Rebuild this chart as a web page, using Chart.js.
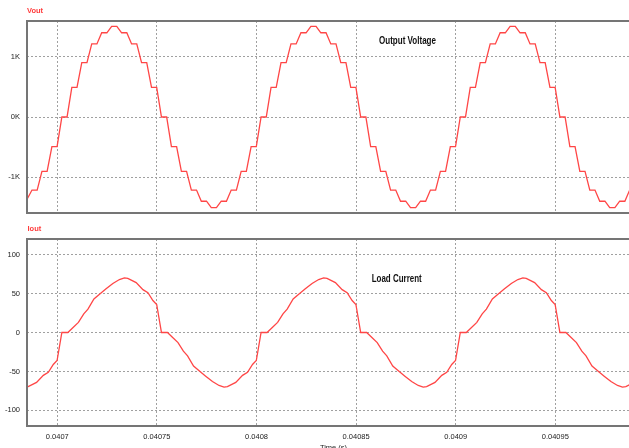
<!DOCTYPE html>
<html lang="en">
<head>
    <meta charset="UTF-8">
    <title>Vout / Iout</title>
    <script src="https://cdn.jsdelivr.net/npm/chart.js"></script>
    <style>
        html, body {
            margin: 0;
            padding: 0;
            background: #ffffff;
            overflow: hidden;
            width: 629px;
            height: 448px;
        }
        .panel {
            position: absolute;
            left: 0;
            width: 640px;
        }
        #top { top: 0; height: 218px; }
        #bottom { top: 218px; height: 247px; }
    </style>
</head>
<body>
    <div class="panel" id="top"><canvas id="vChart"></canvas></div>
    <div class="panel" id="bottom"><canvas id="iChart"></canvas></div>

    <script>
        // time in microseconds (0.0407 s = 40700 us)
        const timeTicks = [40700, 40750, 40800, 40850, 40900, 40950];
        const timeTickLabels = ['0.0407', '0.04075', '0.0408', '0.04085', '0.0409', '0.04095'];

        const vTicks = [-1000, 0, 1000];
        const vTickLabels = ['-1K', '0K', '1K'];
        const iTicks = [-100, -50, 0, 50, 100];
        const iTickLabels = ['-100', '-50', '0', '50', '100'];

        // Output voltage, staircase corners
        const vTime = [
            40682.3, 40684.3, 40687.3, 40689.9, 40692.3, 40694.9, 40697.3, 40699.9,
            40702.3, 40704.9, 40707.3, 40709.9, 40712.3, 40714.9, 40717.3, 40719.9, 40722.3, 40724.9,
            40727.3, 40729.9, 40732.3, 40734.9, 40737.3, 40739.9, 40742.3, 40744.9, 40747.3, 40749.9,
            40752.3, 40754.9, 40757.3, 40759.9, 40762.3, 40764.9, 40767.3, 40769.9, 40772.3, 40774.9,
            40777.3, 40779.9, 40782.3, 40784.9, 40787.3, 40789.9, 40792.3, 40794.9, 40797.3, 40799.9,
            40802.3, 40804.9, 40807.3, 40809.9, 40812.3, 40814.9, 40817.3, 40819.9, 40822.3, 40824.9,
            40827.3, 40829.9, 40832.3, 40834.9, 40837.3, 40839.9, 40842.3, 40844.9, 40847.3, 40849.9,
            40852.3, 40854.9, 40857.3, 40859.9, 40862.3, 40864.9, 40867.3, 40869.9, 40872.3, 40874.9,
            40877.3, 40879.9, 40882.3, 40884.9, 40887.3, 40889.9, 40892.3, 40894.9, 40897.3, 40899.9,
            40902.3, 40904.9, 40907.3, 40909.9, 40912.3, 40914.9, 40917.3, 40919.9, 40922.3, 40924.9,
            40927.3, 40929.9, 40932.3, 40934.9, 40937.3, 40939.9, 40942.3, 40944.9, 40947.3, 40949.9,
            40952.3, 40954.9, 40957.3, 40959.9, 40962.3, 40964.9, 40967.3, 40969.9, 40972.3, 40974.9,
            40977.3, 40979.9, 40982.3, 40984.9, 40987.3, 40989.9, 40992.3, 40994.9
        ];
        const vOut = [
            -1395, -1395, -1210, -1210, -900, -900, -490, -490,
            0, 0, 490, 490, 900, 900, 1210, 1210, 1395, 1395,
            1500, 1500, 1395, 1395, 1210, 1210, 900, 900, 490, 490,
            0, 0, -490, -490, -900, -900, -1210, -1210, -1395, -1395,
            -1500, -1500, -1395, -1395, -1210, -1210, -900, -900, -490, -490,
            0, 0, 490, 490, 900, 900, 1210, 1210, 1395, 1395,
            1500, 1500, 1395, 1395, 1210, 1210, 900, 900, 490, 490,
            0, 0, -490, -490, -900, -900, -1210, -1210, -1395, -1395,
            -1500, -1500, -1395, -1395, -1210, -1210, -900, -900, -490, -490,
            0, 0, 490, 490, 900, 900, 1210, 1210, 1395, 1395,
            1500, 1500, 1395, 1395, 1210, 1210, 900, 900, 490, 490,
            0, 0, -490, -490, -900, -900, -1210, -1210, -1395, -1395,
            -1500, -1500, -1395, -1395, -1210, -1210, -900, -900
        ];

        // Load current
        const iTime = [
            40681.2, 40683.7, 40685.4, 40689.6, 40693.0, 40695.5, 40698.0, 40699.9,
            40702.3, 40705.3, 40707.8, 40710.6, 40713.3, 40715.4, 40718.4, 40721.2, 40724.5,
            40727.9, 40731.2, 40733.7, 40735.4, 40739.6, 40743.0, 40745.5, 40748.0, 40749.9,
            40752.3, 40755.3, 40757.8, 40760.6, 40763.3, 40765.4, 40768.4, 40771.2, 40774.5,
            40777.9, 40781.2, 40783.7, 40785.4, 40789.6, 40793.0, 40795.5, 40798.0, 40799.9,
            40802.3, 40805.3, 40807.8, 40810.6, 40813.3, 40815.4, 40818.4, 40821.2, 40824.5,
            40827.9, 40831.2, 40833.7, 40835.4, 40839.6, 40843.0, 40845.5, 40848.0, 40849.9,
            40852.3, 40855.3, 40857.8, 40860.6, 40863.3, 40865.4, 40868.4, 40871.2, 40874.5,
            40877.9, 40881.2, 40883.7, 40885.4, 40889.6, 40893.0, 40895.5, 40898.0, 40899.9,
            40902.3, 40905.3, 40907.8, 40910.6, 40913.3, 40915.4, 40918.4, 40921.2, 40924.5,
            40927.9, 40931.2, 40933.7, 40935.4, 40939.6, 40943.0, 40945.5, 40948.0, 40949.9,
            40952.3, 40955.3, 40957.8, 40960.6, 40963.3, 40965.4, 40968.4, 40971.2, 40974.5,
            40977.9, 40981.2, 40983.7, 40985.4, 40989.6, 40993.0
        ];
        const iOut = [
            -68, -70, -69.5, -64, -55, -51, -41, -36,
            0, 0, 6, 13, 24, 30, 43, 49, 56,
            63, 68, 70, 69.5, 64, 55, 51, 41, 36,
            0, 0, -6, -13, -24, -30, -43, -49, -56,
            -63, -68, -70, -69.5, -64, -55, -51, -41, -36,
            0, 0, 6, 13, 24, 30, 43, 49, 56,
            63, 68, 70, 69.5, 64, 55, 51, 41, 36,
            0, 0, -6, -13, -24, -30, -43, -49, -56,
            -63, -68, -70, -69.5, -64, -55, -51, -41, -36,
            0, 0, 6, 13, 24, 30, 43, 49, 56,
            63, 68, 70, 69.5, 64, 55, 51, 41, 36,
            0, 0, -6, -13, -24, -30, -43, -49, -56,
            -63, -68, -70, -69.5, -64, -55
        ];

        const tMin = 40684.8;
        const tMax = 40992.5;
        const lineColor = '#ff4646';
        const gridColor = '#a0a0a0';
        const tickFont = { family: '"Liberation Sans", Arial, sans-serif', size: 7.5 };

        // frame, series name and caption
        const overlay = {
            id: 'overlay',
            afterDraw(chart, args, o) {
                const { ctx, chartArea: a } = chart;
                ctx.save();
                ctx.strokeStyle = '#757575';
                ctx.lineWidth = 2;
                ctx.strokeRect(a.left, a.top, a.right - a.left, a.bottom - a.top);

                ctx.fillStyle = '#ff3c3c';
                ctx.font = 'bold 7.5px "Liberation Sans", Arial, sans-serif';
                ctx.textBaseline = 'middle';
                ctx.textAlign = 'left';
                ctx.fillText(o.name, o.nameX, o.nameY);

                ctx.fillStyle = '#111';
                ctx.font = 'bold 10px "Liberation Sans", Arial, sans-serif';
                ctx.textAlign = 'center';
                const w = ctx.measureText(o.caption).width;
                ctx.translate(o.capX, o.capY);
                ctx.scale(o.capW / w, 1);
                ctx.fillText(o.caption, 0, 0);
                ctx.restore();
            }
        };

        function xAxis(showLabels, height) {
            return {
                type: 'linear',
                min: tMin,
                max: tMax,
                afterBuildTicks: s => { s.ticks = timeTicks.map(v => ({ value: v })); },
                afterFit: s => { s.height = height; },
                ticks: {
                    display: showLabels,
                    padding: 6,
                    color: '#222',
                    font: tickFont,
                    maxRotation: 0,
                    autoSkip: false,
                    callback: (v, i) => timeTickLabels[i]
                },
                grid: { color: gridColor, drawTicks: false },
                border: { display: false, dash: [2, 2] },
                title: {
                    display: showLabels,
                    text: 'Time (s)',
                    color: '#222',
                    font: tickFont,
                    padding: { top: 0, bottom: 13 }
                }
            };
        }

        function yAxis(min, max, tickVals, tickLabels) {
            return {
                type: 'linear',
                min: min,
                max: max,
                afterBuildTicks: s => { s.ticks = tickVals.map(v => ({ value: v })); },
                afterFit: s => {
                    s.width = 27;
                    s.paddingTop = 0;
                    s.paddingBottom = 0;
                },
                ticks: {
                    padding: 7,
                    color: '#222',
                    font: tickFont,
                    callback: (v, i) => tickLabels[i]
                },
                grid: { color: gridColor, drawTicks: false },
                border: { display: false, dash: [2, 2] }
            };
        }

        const common = {
            responsive: true,
            maintainAspectRatio: false,
            animation: false,
            events: []
        };

        new Chart(document.getElementById('vChart'), {
            type: 'line',
            data: {
                datasets: [{
                    label: 'Vout',
                    data: vTime.map((t, i) => ({ x: t, y: vOut[i] })),
                    borderColor: lineColor,
                    borderWidth: 1.3,
                    pointRadius: 0,
                    tension: 0
                }]
            },
            options: {
                ...common,
                layout: { padding: { top: 21, left: 0, right: 0, bottom: 0 } },
                scales: {
                    x: xAxis(false, 5),
                    y: yAxis(-1590, 1590, vTicks, vTickLabels)
                },
                plugins: {
                    legend: { display: false },
                    tooltip: { enabled: false },
                    overlay: { name: 'Vout', nameX: 27, nameY: 11, caption: 'Output Voltage', capX: 407.5, capY: 41, capW: 57 }
                }
            },
            plugins: [overlay]
        });

        new Chart(document.getElementById('iChart'), {
            type: 'line',
            data: {
                datasets: [{
                    label: 'Iout',
                    data: iTime.map((t, i) => ({ x: t, y: iOut[i] })),
                    borderColor: lineColor,
                    borderWidth: 1.3,
                    pointRadius: 0,
                    tension: 0
                }]
            },
            options: {
                ...common,
                layout: { padding: { top: 21, left: 0, right: 0, bottom: 0 } },
                scales: {
                    x: xAxis(true, 39),
                    y: yAxis(-120, 120, iTicks, iTickLabels)
                },
                plugins: {
                    legend: { display: false },
                    tooltip: { enabled: false },
                    overlay: { name: 'Iout', nameX: 27.5, nameY: 10.5, caption: 'Load Current', capX: 396.7, capY: 61, capW: 50 }
                }
            },
            plugins: [overlay]
        });
    </script>
</body>
</html>
